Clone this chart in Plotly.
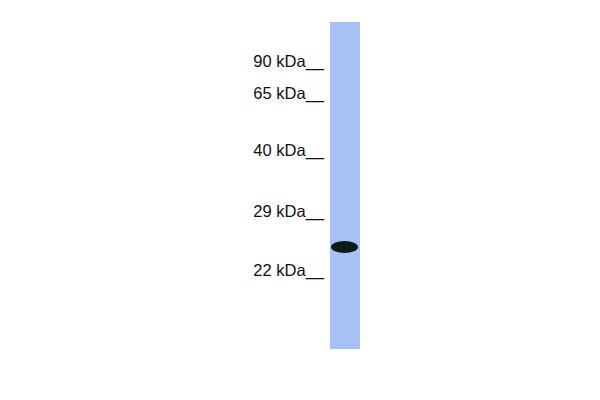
import plotly.graph_objects as go

marker_labels = ["90 kDa", "65 kDa", "40 kDa", "29 kDa", "22 kDa"]
marker_pos = [63, 95, 152, 213, 272]   # migration position (px from top)
lane_top = 22
lane_bottom = 349
band_pos = [247]

OFF = 8  # page body margin

fig = go.Figure()
# lane
fig.add_trace(go.Bar(x=[345], y=[lane_bottom - lane_top], base=[lane_top], width=[30],
                     marker=dict(color="#a7c1f5", line=dict(width=0)), hoverinfo="skip"))
# marker labels
fig.add_trace(go.Scatter(x=[324] * len(marker_pos), y=marker_pos, mode="text",
                         text=[t + "__" for t in marker_labels], textposition="middle left",
                         textfont=dict(family="Liberation Sans, Arial", size=16.5, color="#111111"),
                         hoverinfo="skip"))
# band
for b in band_pos:
    fig.add_shape(type="circle", x0=331, x1=358, y0=b - 6, y1=b + 6,
                  fillcolor="#0c1a1a", line=dict(width=0), layer="above")

fig.update_layout(width=600, height=400, margin=dict(l=0, r=0, t=0, b=0),
                  paper_bgcolor="white", plot_bgcolor="white", showlegend=False,
                  xaxis=dict(range=[OFF, 600 + OFF], visible=False, fixedrange=True),
                  yaxis=dict(range=[400 + OFF, OFF], visible=False, fixedrange=True),
                  bargap=0)
fig.write_html("out.html")
